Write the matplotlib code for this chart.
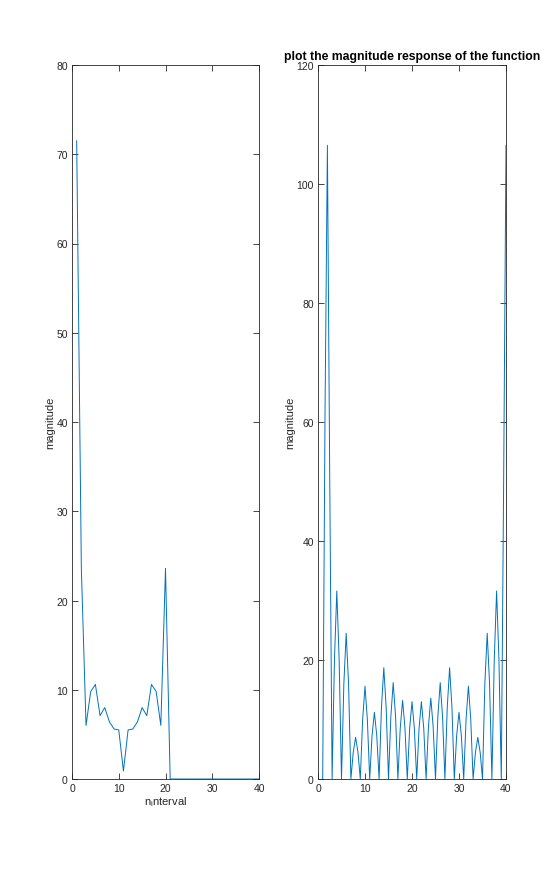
import numpy as np
import matplotlib
matplotlib.use("Agg")
import matplotlib.pyplot as plt

plt.rcParams['font.family'] = ['Liberation Sans', 'DejaVu Sans']

# left panel: magnitude of the sequence, n = 1..40
n_left = np.arange(1, 41)
mag_left = [71.5, 23.6, 6.0, 9.8, 10.6, 7.1, 8.0, 6.4, 5.6, 5.5,
            0.9, 5.5, 5.6, 6.4, 8.0, 7.1, 10.6, 9.8, 6.0, 23.6,
            0, 0, 0, 0, 0, 0, 0, 0, 0, 0,
            0, 0, 0, 0, 0, 0, 0, 0, 0, 0]

# right panel: magnitude response sampled every 0.5 from 1 to 40
n_right = np.arange(1, 40.5, 0.5)
mag_right = [0, 62, 106.5, 50, 0,
             20, 31.6, 20, 0,
             16, 24.5, 16, 0,
             4.5, 7.0, 4.5, 0,
             10, 15.6, 10, 0,
             7.3, 11.2, 7.3, 0,
             12, 18.7, 12, 0,
             10.5, 16.2, 10.5, 0,
             8.6, 13.2, 8.6, 0,
             8.5, 13.0, 8.5, 0,
             8.5, 13.0, 8.5, 0,
             8.8, 13.6, 8.8, 0,
             10.5, 16.2, 10.5, 0,
             12, 18.7, 12, 0,
             7.3, 11.2, 7.3, 0,
             10, 15.6, 10, 0,
             4.5, 7.0, 4.5, 0,
             16, 24.5, 16, 0,
             20, 31.6, 20, 0,
             50, 106.5]

line_col = '#0072BD'
axis_col = '#262626'

fig = plt.figure(figsize=(5.6, 8.78), dpi=100)
ax1 = fig.add_axes([72/560, 98/878, 187/560, 714/878])
ax2 = fig.add_axes([318/560, 98/878, 188/560, 714/878])


def style(ax):
    ax.tick_params(direction='in', length=4, width=0.6, top=True, right=True,
                   labelsize=7.5, colors=axis_col, pad=3)
    for s in ax.spines.values():
        s.set_color(axis_col)
        s.set_linewidth(0.6)


ax1.plot(n_left, mag_left, color=line_col, linewidth=0.7)
ax1.set_xlim(0, 40)
ax1.set_ylim(0, 80)
ax1.set_xticks([0, 10, 20, 30, 40])
ax1.set_yticks(range(0, 81, 10))
ax1.set_ylabel('magnitude', fontsize=8, color=axis_col, labelpad=1)
ax1.set_xlabel(r'n$_\mathregular{i}$nterval', fontsize=8, color=axis_col, labelpad=1)
style(ax1)

ax2.plot(n_right, mag_right, color=line_col, linewidth=0.7)
ax2.set_xlim(0, 40)
ax2.set_ylim(0, 120)
ax2.set_xticks([0, 10, 20, 30, 40])
ax2.set_yticks(range(0, 121, 20))
ax2.set_ylabel('magnitude', fontsize=8, color=axis_col, labelpad=1)
ax2.set_title('plot the magnitude response of the function', fontsize=8.8,
              fontweight='bold', pad=4)
style(ax2)

fig.savefig('out.png', dpi=100)
